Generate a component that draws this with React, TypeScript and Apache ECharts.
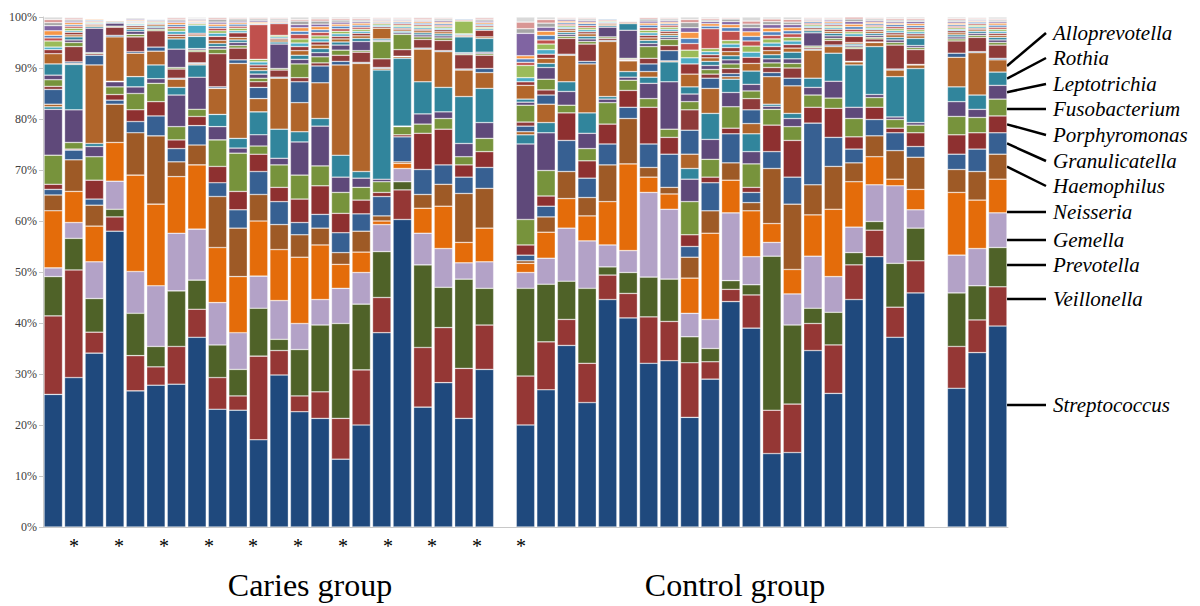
import React, { useEffect, useRef } from "react";
import * as echarts from "echarts";

// Named genera, stacked bottom -> top
const genera = [
  "Streptococcus", "Veillonella", "Prevotella", "Gemella", "Neisseria", "Haemophilus",
  "Granulicatella", "Porphyromonas", "Fusobacterium", "Leptotrichia", "Rothia", "Alloprevotella",
];
const generaColors = [
  "#1F497D", "#953735", "#4F6228", "#B3A2C7", "#E46C0A", "#9E5A26",
  "#376092", "#8E3030", "#77933C", "#5F497A", "#31859C", "#B0652B",
];
// Minor genera (grouped in 16 small bands above the named ones)
const otherColors = [
  "#376092", "#8E3B3A", "#77933C", "#604A7B", "#31859C", "#B3662A", "#953735", "#4BACC6",
  "#9BBB59", "#C0504D", "#4F81BD", "#F79646", "#8064A2", "#A6A6A6", "#D99694", "#D9D9D9",
];

// Relative abundance (%) per sample, genera in the order above
const cariesGenera: number[][] = [
  [26.0, 15.4, 7.7, 1.7, 11.2, 3.1, 1.1, 1.0, 5.7, 9.0, 0.5, 0.5],
  [29.3, 21.1, 6.2, 3.1, 6.1, 6.2, 1.9, 0.2, 1.3, 6.4, 8.9, 0.2],
  [34.1, 4.1, 6.6, 7.2, 7.0, 4.1, 1.2, 3.7, 4.6, 2.0, 0.6, 15.4],
  [58.0, 2.8, 1.5, 5.5, 7.6, 7.5, 0.8, 1.1, 1.5, 1.0, 0.1, 8.7],
  [26.7, 6.9, 8.3, 8.2, 18.9, 8.3, 2.2, 2.3, 3.2, 1.3, 2.0, 4.6],
  [27.8, 3.6, 4.0, 11.9, 16.0, 13.4, 3.9, 2.8, 3.6, 0.9, 2.7, 2.7],
  [28.0, 7.4, 10.9, 11.3, 11.1, 2.9, 2.6, 1.7, 2.6, 6.2, 1.5, 1.6],
  [37.2, 5.5, 5.7, 10.0, 12.6, 3.9, 3.8, 1.8, 1.4, 6.3, 2.4, 0.2],
  [23.1, 6.2, 6.4, 8.3, 10.8, 10.0, 2.7, 3.2, 5.2, 2.6, 2.4, 5.1],
  [22.9, 2.8, 5.2, 7.2, 11.0, 9.5, 3.6, 3.6, 7.5, 1.0, 1.9, 14.7],
  [17.1, 16.4, 9.4, 6.3, 10.8, 5.2, 4.5, 3.4, 1.6, 2.2, 4.5, 2.6],
  [29.8, 4.8, 2.2, 7.6, 10.0, 4.9, 4.5, 2.8, 4.4, 1.3, 5.7, 10.0],
  [22.6, 3.1, 9.1, 5.1, 13.0, 4.4, 2.4, 4.6, 4.7, 6.5, 2.0, 5.7],
  [21.3, 5.2, 13.1, 5.0, 10.7, 3.3, 2.7, 5.6, 3.9, 7.8, 1.5, 7.0],
  [13.3, 8.0, 18.6, 6.9, 4.7, 2.3, 3.9, 3.8, 4.1, 3.0, 4.3, 17.7],
  [20.0, 10.8, 12.9, 6.2, 4.0, 4.1, 3.4, 2.7, 2.5, 1.8, 1.3, 21.2],
  [38.1, 6.9, 9.0, 5.3, 0.7, 1.0, 3.8, 0.8, 2.1, 0.5, 21.4, 0.3],
  [60.3, 5.8, 1.6, 2.6, 1.0, 0.3, 4.9, 0.4, 1.6, 0.1, 13.3, 0.3],
  [23.5, 11.7, 16.2, 6.2, 4.9, 2.7, 4.9, 7.1, 1.8, 2.0, 6.3, 6.4],
  [28.3, 10.8, 7.9, 7.6, 8.3, 4.3, 3.8, 7.0, 2.1, 1.3, 4.8, 7.0],
  [21.3, 9.8, 17.5, 3.2, 4.0, 9.6, 3.2, 2.4, 1.6, 2.6, 9.2, 5.2],
  [30.9, 8.7, 7.2, 5.2, 6.6, 7.8, 4.1, 3.1, 2.6, 3.1, 6.7, 3.1],
];
const cariesOthers: number[][] = [
  [2.9, 0.6, 1.3, 0.9, 2.2, 2.0, 0.8, 0.5, 1.2, 0.6, 0.5, 0.9, 1.0, 0.6, 0.6, 0.5],
  [0.3, 3.0, 0.8, 0.5, 0.6, 0.4, 0.5, 0.3, 0.5, 0.4, 0.3, 0.4, 0.3, 0.3, 0.3, 0.2],
  [1.9, 0.3, 0.2, 4.8, 0.3, 0.3, 0.2, 0.2, 0.2, 0.2, 0.2, 0.2, 0.1, 0.1, 0.1, 0.1],
  [0.3, 1.6, 0.2, 0.6, 0.2, 0.2, 0.1, 0.1, 0.1, 0.1, 0.1, 0.1, 0.05, 0.05, 0.05, 0.05],
  [0.3, 2.9, 0.5, 0.6, 0.4, 0.4, 0.3, 0.3, 0.2, 0.2, 0.2, 0.2, 0.2, 0.2, 0.1, 0.1],
  [0.8, 3.2, 0.3, 0.3, 0.3, 0.3, 0.2, 0.2, 0.2, 0.2, 0.2, 0.1, 0.1, 0.1, 0.1, 0.1],
  [0.2, 1.8, 0.3, 3.6, 2.0, 0.5, 0.4, 0.6, 0.5, 0.4, 0.4, 0.4, 0.3, 0.3, 0.3, 0.2],
  [0.2, 2.2, 0.3, 0.3, 2.4, 0.3, 0.3, 1.6, 0.3, 0.2, 0.2, 0.2, 0.2, 0.2, 0.1, 0.2],
  [0.3, 6.5, 0.9, 0.5, 0.6, 0.6, 0.8, 0.6, 0.5, 0.5, 0.4, 0.4, 0.4, 0.5, 0.3, 0.2],
  [0.7, 2.3, 0.5, 0.6, 0.5, 0.5, 0.9, 0.4, 0.5, 0.4, 0.4, 0.3, 0.3, 0.4, 0.2, 0.2],
  [2.2, 1.1, 0.7, 0.8, 0.7, 0.6, 0.5, 0.6, 0.5, 6.8, 0.2, 0.3, 0.3, 0.3, 0.2, 0.2],
  [0.2, 1.4, 0.3, 4.8, 0.4, 0.4, 0.3, 0.3, 0.3, 2.3, 0.2, 0.2, 0.2, 0.3, 0.2, 0.2],
  [4.1, 0.8, 2.7, 0.9, 0.8, 0.9, 0.8, 0.7, 0.8, 0.9, 0.6, 0.7, 0.6, 0.7, 0.3, 0.5],
  [3.3, 0.6, 1.2, 0.8, 0.8, 0.7, 0.6, 0.6, 0.6, 0.7, 0.5, 0.6, 0.5, 0.6, 0.4, 0.4],
  [0.7, 1.2, 1.0, 1.0, 0.6, 0.6, 0.5, 0.5, 0.5, 0.5, 0.5, 0.4, 0.4, 0.4, 0.3, 0.3],
  [0.2, 2.0, 0.3, 1.8, 0.6, 0.5, 0.5, 0.4, 0.4, 0.4, 0.4, 0.4, 0.3, 0.3, 0.3, 0.3],
  [0.2, 1.7, 3.4, 0.2, 0.3, 2.1, 0.3, 0.3, 0.3, 0.2, 0.2, 0.2, 0.2, 0.2, 0.2, 0.1],
  [0.1, 1.3, 3.0, 0.3, 0.3, 0.3, 0.3, 0.3, 0.3, 0.3, 0.3, 0.2, 0.2, 0.2, 0.2, 0.2],
  [0.2, 1.7, 0.5, 0.4, 0.4, 0.4, 0.3, 0.3, 0.3, 0.3, 0.3, 0.3, 0.2, 0.2, 0.3, 0.2],
  [0.2, 2.0, 0.5, 0.4, 0.4, 0.4, 0.4, 0.3, 0.3, 0.3, 0.3, 0.3, 0.3, 0.3, 0.2, 0.2],
  [0.2, 2.8, 0.2, 0.2, 3.1, 0.2, 0.2, 0.2, 2.5, 0.2, 0.2, 0.1, 0.1, 0.1, 0.1, 0.0],
  [0.8, 2.6, 0.3, 0.3, 2.7, 0.3, 1.3, 0.3, 0.3, 0.3, 0.3, 0.3, 0.3, 0.3, 0.3, 0.2],
];

const controlGenera: number[][] = [
  [20.0, 9.6, 17.2, 3.1, 1.8, 0.5, 1.1, 2.0, 5.0, 14.8, 1.8, 0.6],
  [26.9, 9.4, 11.3, 5.1, 5.1, 3.0, 2.1, 2.0, 5.0, 7.4, 2.0, 3.6],
  [35.6, 5.1, 7.5, 10.4, 5.8, 5.3, 6.1, 5.4, 1.5, 2.7, 1.9, 5.2],
  [24.4, 7.7, 14.7, 9.3, 4.9, 3.6, 3.8, 3.4, 2.4, 3.0, 4.0, 9.6],
  [44.6, 4.8, 1.6, 4.3, 8.5, 7.2, 4.1, 3.9, 4.2, 0.7, 0.5, 10.8],
  [41.0, 4.8, 4.1, 4.3, 17.0, 8.9, 2.2, 3.3, 2.0, 0.6, 1.1, 2.1],
  [32.1, 9.1, 7.8, 16.6, 3.0, 1.9, 4.6, 7.2, 1.7, 3.0, 1.2, 1.1],
  [32.6, 7.7, 8.3, 13.7, 3.0, 1.3, 6.5, 3.3, 1.6, 9.3, 3.9, 0.2],
  [21.5, 10.7, 5.1, 4.6, 6.9, 4.1, 2.1, 2.3, 6.5, 4.4, 2.1, 2.8],
  [29.0, 3.4, 2.6, 5.7, 16.9, 4.4, 5.5, 1.1, 3.5, 3.9, 5.1, 4.9],
  [44.2, 2.4, 1.7, 13.3, 6.4, 3.4, 5.7, 1.1, 4.2, 2.8, 2.6, 0.5],
  [39.0, 6.5, 2.0, 5.5, 9.0, 1.6, 2.0, 1.0, 4.6, 2.4, 3.5, 2.0],
  [14.4, 8.5, 30.2, 2.7, 3.7, 10.8, 3.3, 5.2, 3.1, 0.6, 0.4, 5.4],
  [14.6, 9.5, 15.5, 6.1, 4.8, 12.8, 5.3, 7.2, 2.7, 1.6, 1.0, 5.4],
  [34.6, 5.3, 3.0, 10.2, 8.1, 5.9, 12.1, 3.1, 2.4, 1.5, 1.8, 5.5],
  [26.2, 9.5, 6.4, 7.0, 13.2, 8.4, 5.7, 5.7, 2.0, 3.3, 5.5, 1.3],
  [44.6, 6.8, 2.4, 5.0, 8.9, 3.7, 2.7, 2.4, 3.6, 2.2, 8.3, 0.6],
  [53.0, 5.2, 1.7, 7.2, 5.5, 4.1, 3.2, 2.4, 1.9, 0.6, 9.4, 0.8],
  [37.2, 5.9, 8.6, 15.2, 1.3, 5.6, 3.5, 0.9, 1.7, 0.5, 7.9, 1.3],
  [45.9, 6.3, 6.4, 3.6, 4.0, 6.3, 2.1, 2.7, 1.5, 0.5, 10.6, 0.7],
];
const controlOthers: number[][] = [
  [1.1, 0.8, 3.3, 0.6, 0.6, 2.7, 0.7, 0.8, 2.4, 0.6, 0.7, 0.6, 4.4, 0.9, 1.3, 1.0],
  [1.8, 1.0, 2.1, 2.3, 0.8, 1.0, 0.8, 0.9, 1.1, 0.8, 0.9, 0.8, 0.8, 0.8, 0.7, 0.5],
  [0.2, 3.1, 0.4, 0.4, 0.4, 0.4, 0.3, 0.3, 0.3, 0.3, 0.3, 0.3, 0.3, 0.2, 0.2, 0.1],
  [0.5, 3.4, 0.5, 0.5, 0.5, 0.5, 0.4, 0.4, 0.4, 0.4, 0.4, 0.3, 0.3, 0.3, 0.2, 0.2],
  [0.2, 0.4, 0.3, 1.9, 0.3, 0.3, 0.2, 0.2, 0.2, 0.2, 0.2, 0.1, 0.1, 0.1, 0.1, 0.0],
  [0.1, 0.2, 0.2, 5.5, 1.3, 0.2, 0.2, 0.1, 0.1, 0.1, 0.1, 0.1, 0.1, 0.1, 0.1, 0.1],
  [1.5, 1.1, 2.3, 0.6, 0.6, 0.5, 0.5, 0.5, 0.5, 0.5, 0.5, 0.4, 0.4, 0.4, 0.3, 0.1],
  [2.0, 1.0, 1.2, 0.4, 0.4, 0.4, 0.4, 0.4, 0.4, 0.4, 0.3, 0.3, 0.3, 0.3, 0.2, 0.2],
  [4.7, 4.0, 1.6, 1.5, 1.4, 2.5, 2.0, 1.2, 1.5, 1.3, 1.0, 1.2, 0.9, 1.0, 0.6, 0.5],
  [2.0, 0.8, 0.9, 0.8, 0.8, 0.7, 0.6, 0.6, 0.6, 3.9, 0.5, 0.5, 0.4, 0.3, 0.3, 0.3],
  [0.6, 1.0, 0.9, 0.8, 0.8, 0.8, 0.8, 0.7, 0.7, 1.8, 0.7, 0.6, 0.6, 0.5, 0.2, 0.2],
  [2.7, 2.2, 1.5, 1.3, 2.6, 1.5, 1.2, 1.0, 1.2, 1.0, 0.9, 0.9, 0.8, 0.7, 0.6, 0.8],
  [0.8, 1.0, 0.9, 0.8, 0.8, 0.8, 0.8, 0.7, 0.8, 0.7, 0.7, 0.7, 0.7, 0.6, 0.5, 0.4],
  [1.5, 2.0, 0.9, 0.9, 1.3, 0.8, 0.7, 0.7, 0.7, 0.7, 0.6, 0.6, 0.6, 0.5, 0.5, 0.5],
  [0.2, 0.3, 0.3, 2.6, 0.4, 0.3, 0.3, 0.3, 0.3, 0.3, 0.3, 0.2, 0.2, 0.2, 0.2, 0.1],
  [0.3, 0.9, 0.4, 0.5, 0.5, 0.4, 0.4, 0.3, 0.3, 0.3, 0.3, 0.3, 0.3, 0.2, 0.2, 0.2],
  [0.1, 2.5, 0.3, 0.3, 0.3, 0.3, 1.2, 0.5, 0.4, 0.5, 0.5, 0.5, 0.5, 0.5, 0.4, 0.0],
  [0.1, 0.6, 0.3, 0.4, 0.4, 0.4, 0.3, 0.3, 0.3, 0.3, 0.3, 0.3, 0.3, 0.3, 0.2, 0.2],
  [0.2, 4.7, 0.5, 0.5, 0.5, 0.5, 0.4, 0.4, 0.4, 0.4, 0.4, 0.3, 0.3, 0.3, 0.3, 0.3],
  [0.1, 2.9, 0.4, 0.4, 1.4, 0.5, 0.4, 0.4, 0.4, 0.4, 0.4, 0.4, 0.4, 0.3, 0.3, 0.3],
];

// Group means (right-hand block)
const groupGenera: number[][] = [
  [27.2, 8.2, 10.5, 7.4, 12.3, 4.5, 3.0, 3.8, 3.6, 2.9, 2.9, 5.8],
  [34.2, 6.4, 6.7, 7.3, 9.5, 5.6, 4.4, 3.2, 3.0, 1.6, 2.8, 8.3],
  [39.4, 7.7, 7.7, 6.8, 6.6, 4.9, 4.2, 3.3, 3.3, 2.7, 2.6, 2.4],
];
const groupOthers: number[][] = [
  [0.8, 2.4, 0.4, 0.4, 0.4, 0.4, 0.4, 0.3, 0.3, 0.3, 0.3, 0.3, 0.3, 0.3, 0.3, 0.3],
  [0.2, 2.8, 0.4, 0.4, 0.4, 0.3, 0.3, 0.3, 0.3, 0.3, 0.3, 0.2, 0.2, 0.2, 0.2, 0.2],
  [0.3, 2.6, 0.5, 0.5, 0.5, 0.4, 0.4, 0.4, 0.4, 0.4, 0.4, 0.4, 0.3, 0.3, 0.2, 0.4],
];

// Annotation / layout text
const groupTitles = [
  { text: "Caries group", x: 310 },
  { text: "Control group", x: 735 },
];
const asteriskX = [74, 119, 164, 209, 253, 298, 343, 388, 432, 477, 521];
// label centre y for each genus (same order as genera)
const legendTextY = [405, 299, 265, 240, 212, 186, 161, 135, 109, 84, 58, 33];

export default function App() {
  const ref = useRef<HTMLDivElement>(null);

  useEffect(() => {
    if (!ref.current) return;
    const chart = echarts.init(ref.current, null, { renderer: "svg" });

    const rowsG: (number[] | null)[] = [...cariesGenera, null, ...controlGenera, null, ...groupGenera];
    const rowsO: (number[] | null)[] = [...cariesOthers, null, ...controlOthers, null, ...groupOthers];
    const categories = rowsG.map((r, i) => {
      if (i < cariesGenera.length) return "Caries " + (i + 1);
      if (i === cariesGenera.length) return "gap1";
      if (i <= cariesGenera.length + controlGenera.length) return "Control " + (i - cariesGenera.length);
      if (i === cariesGenera.length + controlGenera.length + 1) return "gap2";
      return "Mean " + (i - cariesGenera.length - controlGenera.length - 1);
    });

    const border = { borderColor: "rgba(255,255,255,0.55)", borderWidth: 0.6 };
    const series: any[] = [];
    genera.forEach((name, g) => {
      series.push({
        type: "bar",
        name,
        stack: "total",
        barCategoryGap: "10%",
        data: rowsG.map((r) => (r ? r[g] : null)),
        itemStyle: { color: generaColors[g], ...border },
      });
    });
    otherColors.forEach((c, k) => {
      series.push({
        type: "bar",
        name: "Other " + (k + 1),
        stack: "total",
        barCategoryGap: "10%",
        data: rowsO.map((r) => (r ? r[k] : null)),
        itemStyle: { color: c, ...border },
      });
    });

    const staticGraphics: any[] = [];
    groupTitles.forEach((t) => {
      staticGraphics.push({
        type: "text",
        x: t.x,
        y: 585,
        style: {
          text: t.text,
          font: '32px "Liberation Serif"',
          fill: "#000",
          textAlign: "center",
          textVerticalAlign: "middle",
          verticalAlign: "middle",
        },
      });
    });
    asteriskX.forEach((x) => {
      staticGraphics.push({
        type: "text",
        x,
        y: 546,
        style: {
          text: "*",
          font: '20px "Liberation Serif"',
          fill: "#000",
          textAlign: "center",
          textVerticalAlign: "middle",
          verticalAlign: "middle",
        },
      });
    });

    chart.setOption({
      animation: false,
      backgroundColor: "#ffffff",
      grid: { left: 43, top: 17, width: 965, height: 510, containLabel: false },
      xAxis: {
        type: "category",
        data: categories,
        axisLabel: { show: false },
        axisTick: { show: false },
        axisLine: { show: true, lineStyle: { color: "#c8c8c8", width: 1 } },
      },
      yAxis: {
        type: "value",
        min: 0,
        max: 100,
        interval: 10,
        axisLabel: {
          formatter: "{value}%",
          fontFamily: "Liberation Serif",
          fontSize: 12,
          color: "#404040",
          margin: 6,
        },
        axisLine: { show: true, lineStyle: { color: "#c8c8c8", width: 1 } },
        axisTick: { show: true, length: 4, lineStyle: { color: "#c8c8c8" } },
        splitLine: { show: false },
      },
      series,
      graphic: staticGraphics,
    });

    // Legend lines pointing at the last group-mean bar
    const last = categories.length - 1;
    const p0 = chart.convertToPixel({ gridIndex: 0 }, [0, 0]) as number[];
    const p1 = chart.convertToPixel({ gridIndex: 0 }, [1, 0]) as number[];
    const band = p1[0] - p0[0];
    const pc = chart.convertToPixel({ gridIndex: 0 }, [last, 0]) as number[];
    const barRight = pc[0] + band * 0.45;
    const row = groupGenera[groupGenera.length - 1];
    const legendGraphics: any[] = [];
    let cum = 0;
    genera.forEach((name, g) => {
      const lo = cum;
      cum += row[g];
      const hi = cum;
      const yLo = (chart.convertToPixel({ gridIndex: 0 }, [last, lo]) as number[])[1];
      const yHi = (chart.convertToPixel({ gridIndex: 0 }, [last, hi]) as number[])[1];
      const ty = legendTextY[g];
      const sy = ty <= yLo && ty >= yHi ? ty : (yLo + yHi) / 2;
      legendGraphics.push({
        type: "line",
        shape: { x1: barRight, y1: sy, x2: 1046, y2: ty },
        style: { stroke: "#000", lineWidth: 2.5 },
      });
      legendGraphics.push({
        type: "text",
        x: 1053,
        y: ty,
        style: {
          text: name,
          font: 'italic 21px "Liberation Serif"',
          fill: "#000",
          textAlign: "left",
          textVerticalAlign: "middle",
          verticalAlign: "middle",
        },
      });
    });
    chart.setOption({ graphic: [...staticGraphics, ...legendGraphics] });

    return () => chart.dispose();
  }, []);

  return (
    <div
      ref={ref}
      style={{ position: "fixed", left: 0, top: 0, width: 1200, height: 606, background: "#fff" }}
    />
  );
}
